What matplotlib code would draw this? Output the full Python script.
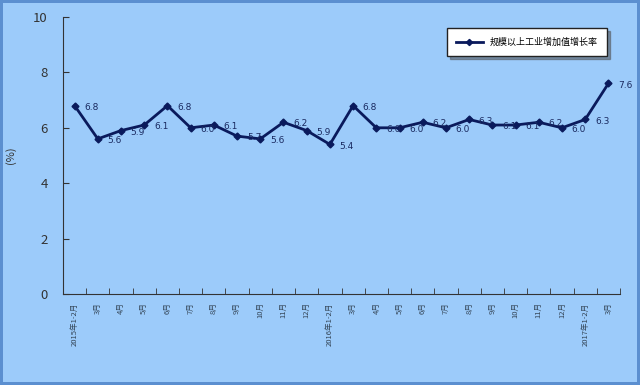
import matplotlib
matplotlib.use('Agg')
import matplotlib.pyplot as plt
import numpy as np

plt.rcParams['font.family'] = ['Noto Sans CJK SC', 'DejaVu Sans']

labels = ['2015年1-2月', '3月', '4月', '5月', '6月', '7月', '8月', '9月', '10月', '11月', '12月',
          '2016年1-2月', '3月', '4月', '5月', '6月', '7月', '8月', '9月', '10月', '11月', '12月',
          '2017年1-2月', '3月']
values = [6.8, 5.6, 5.9, 6.1, 6.8, 6.0, 6.1, 5.7, 5.6, 6.2, 5.9,
          5.4, 6.8, 6.0, 6.0, 6.2, 6.0, 6.3, 6.1, 6.1, 6.2, 6.0,
          6.3, 7.6]
series_name = '规模以上工业增加值增长率'

bg = '#9ccbfa'
line_c = '#0a1a5c'

fig = plt.figure(figsize=(6.4, 3.85), dpi=100, facecolor=bg,
                 edgecolor='#5b8fd0', linewidth=3)
ax = fig.add_axes([63/640, 91/385, 557/640, 277/385])
ax.set_facecolor(bg)

x = np.arange(len(values))
ax.plot(x, values, color=line_c, lw=2, marker='D', ms=3.5, label=series_name)
for xi, v in zip(x, values):
    ax.annotate('%.1f' % v, (xi, v), xytext=(7, -3), textcoords='offset points',
                fontsize=6.5, color='#1a2a60', family='DejaVu Sans')

ax.set_xlim(-0.5, len(values) - 0.5)
ax.set_ylim(0, 10)
ax.set_yticks([0, 2, 4, 6, 8, 10])
ax.tick_params(axis='y', labelsize=9.5, colors='#333333', direction='in', length=4, pad=11)
ax.set_xticks(x)
ax.set_xticklabels(labels, rotation=90, fontsize=5.5, color='#334455')
ax.set_xticks(np.arange(-0.5, len(values)), minor=True)
ax.tick_params(axis='x', which='major', length=0, pad=6)
ax.tick_params(axis='x', which='minor', length=4, direction='in', color='#333333')
ax.spines['top'].set_visible(False)
ax.spines['right'].set_visible(False)
ax.spines['left'].set_color('#333333')
ax.spines['bottom'].set_color('#333333')
ax.set_ylabel('(%)', fontsize=8, color='#333333', labelpad=12)

leg = ax.legend(loc='upper right', bbox_to_anchor=(0.985, 0.975), fontsize=6.5,
                frameon=True, fancybox=False, shadow=True, handlelength=3,
                borderpad=1.0, markerscale=0.9)
leg.get_frame().set_edgecolor('#222222')
leg.get_frame().set_facecolor('white')

fig.savefig('out.png', dpi=100, facecolor=bg, edgecolor='#5b8fd0')
